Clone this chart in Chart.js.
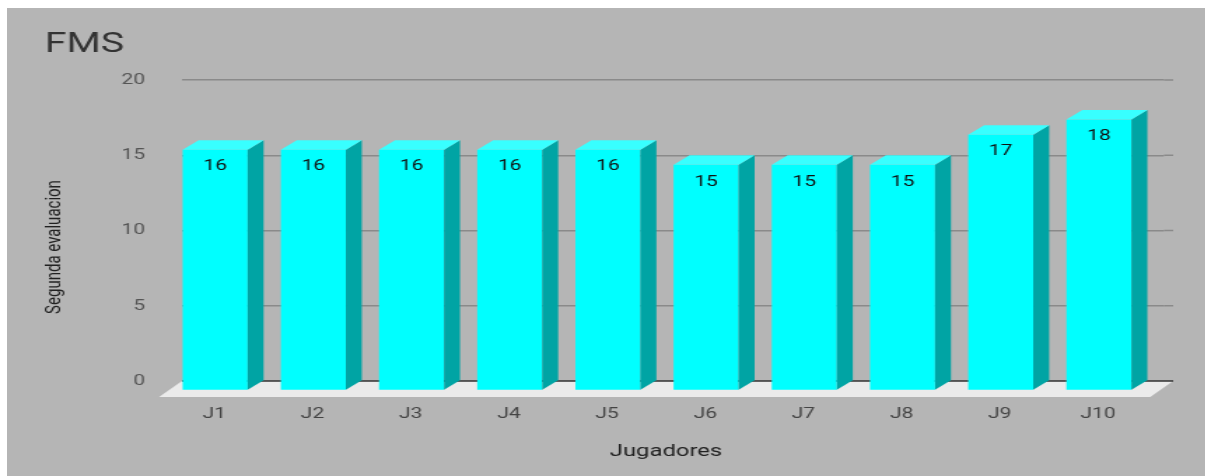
<!DOCTYPE html>
<html>
<head>
<meta charset="utf-8">
<title>FMS</title>
<script src="https://cdn.jsdelivr.net/npm/chart.js@4.4.1/dist/chart.umd.min.js"></script>
<style>
  html, body { margin: 0; padding: 0; background: #fff; }
  #frame { position: absolute; left: 7px; top: 8px; width: 1198px; height: 468px; background: #b5b5b5; overflow: hidden; }
  /* the chart is drawn narrow and stretched sideways */
  #wrap { width: 856px; height: 468px; transform: scaleX(1.4); transform-origin: 0 0; }
</style>
</head>
<body>
<div id="frame"><div id="wrap"><canvas id="fms" width="856" height="468"></canvas></div></div>
<script>
const jugadores = ["J1", "J2", "J3", "J4", "J5", "J6", "J7", "J8", "J9", "J10"];
const evaluacion = [16, 16, 16, 16, 16, 15, 15, 15, 17, 18];
const yTicks = [0, 5, 10, 15, 20];

// depth of the bars and of the floor slab
const DEPTH_X = 11.4, DEPTH_Y = 9.5;
const FLOOR_X = 16.4, FLOOR_Y = 16;
// the back wall runs a little past the last category
const WALL_EXTRA = 6.6;

const bar3d = {
  id: "bar3d",
  beforeDatasetsDraw(chart) {
    const { ctx, chartArea } = chart;
    const y = chart.scales.y;
    const base = y.getPixelForValue(0);
    const right = chartArea.right + WALL_EXTRA;
    ctx.save();
    // finish the grid lines out to the wall edge
    ctx.strokeStyle = "#8a8a8a";
    ctx.lineWidth = 1.5;
    yTicks.forEach(function (v) {
      if (v === 0) return;
      const py = y.getPixelForValue(v);
      ctx.beginPath();
      ctx.moveTo(chartArea.right, py);
      ctx.lineTo(right, py);
      ctx.stroke();
    });
    // floor
    ctx.fillStyle = "#ebebeb";
    ctx.beginPath();
    ctx.moveTo(chartArea.left, base);
    ctx.lineTo(right, base);
    ctx.lineTo(right - FLOOR_X, base + FLOOR_Y);
    ctx.lineTo(chartArea.left - FLOOR_X, base + FLOOR_Y);
    ctx.closePath();
    ctx.fill();
    ctx.strokeStyle = "#333";
    ctx.beginPath();
    ctx.moveTo(chartArea.left, base);
    ctx.lineTo(right, base);
    ctx.stroke();
    ctx.restore();
  },
  afterDatasetsDraw(chart) {
    const ctx = chart.ctx;
    const meta = chart.getDatasetMeta(0);
    ctx.save();
    meta.data.forEach(function (bar, i) {
      const p = bar.getProps(["x", "y", "base", "width"], true);
      const l = p.x - p.width / 2, r = p.x + p.width / 2;
      // front face
      ctx.fillStyle = "#00ffff";
      ctx.fillRect(l - DEPTH_X, p.y + DEPTH_Y, p.width, p.base - p.y);
      // right side
      ctx.fillStyle = "#00a4a4";
      ctx.beginPath();
      ctx.moveTo(r - DEPTH_X, p.y + DEPTH_Y);
      ctx.lineTo(r, p.y);
      ctx.lineTo(r, p.base);
      ctx.lineTo(r - DEPTH_X, p.base + DEPTH_Y);
      ctx.closePath();
      ctx.fill();
      // top
      ctx.fillStyle = "#38ffff";
      ctx.beginPath();
      ctx.moveTo(l - DEPTH_X, p.y + DEPTH_Y);
      ctx.lineTo(l, p.y);
      ctx.lineTo(r, p.y);
      ctx.lineTo(r - DEPTH_X, p.y + DEPTH_Y);
      ctx.closePath();
      ctx.fill();
      // value label
      ctx.fillStyle = "#111";
      ctx.font = "15px Roboto";
      ctx.textAlign = "center";
      ctx.textBaseline = "middle";
      ctx.fillText(String(evaluacion[i]), p.x - DEPTH_X, p.y + DEPTH_Y + 17);
    });
    ctx.restore();
  },
  afterDraw(chart) {
    const ctx = chart.ctx;
    ctx.save();
    ctx.fillStyle = "#222";
    ctx.textAlign = "center";
    ctx.textBaseline = "middle";
    ctx.font = "17px Roboto";
    ctx.fillText("Jugadores", 470.7, 444);
    ctx.translate(34, 239);
    ctx.rotate(-Math.PI / 2);
    ctx.font = "15px Roboto";
    ctx.fillText("Segunda evaluacion", 0, 0);
    ctx.restore();
  }
};

new Chart(document.getElementById("fms"), {
  type: "bar",
  data: {
    labels: jugadores,
    datasets: [{
      label: "Segunda evaluacion",
      data: evaluacion,
      backgroundColor: "rgba(0,0,0,0)",
      categoryPercentage: 1,
      barPercentage: 0.662
    }]
  },
  options: {
    responsive: false,
    animation: false,
    layout: { padding: { left: 27, right: 29.6, top: 0, bottom: 0 } },
    plugins: {
      legend: { display: false },
      tooltip: { enabled: false },
      title: {
        display: true,
        text: "FMS",
        align: "start",
        color: "#333",
        font: { family: "Roboto", size: 28, weight: "normal" },
        padding: { top: 20, bottom: 18.4 }
      }
    },
    scales: {
      x: {
        grid: { display: false },
        border: { display: false },
        ticks: {
          color: "#444",
          font: { family: "Roboto", size: 15 },
          padding: 16,
          labelOffset: -12
        },
        afterFit: function (scale) { scale.height = 95; }
      },
      y: {
        min: 0,
        max: 20,
        border: { display: false },
        grid: {
          drawTicks: false,
          lineWidth: 1.5,
          color: function (c) { return c.tick && c.tick.value === 0 ? "rgba(0,0,0,0)" : "#8a8a8a"; }
        },
        ticks: {
          color: "#555",
          font: { family: "Roboto", size: 15 },
          padding: 26.4
        },
        afterBuildTicks: function (scale) {
          scale.ticks = yTicks.map(function (v) { return { value: v }; });
        },
        afterFit: function (scale) { scale.width = 98; }
      }
    }
  },
  plugins: [bar3d]
});
</script>
</body>
</html>
